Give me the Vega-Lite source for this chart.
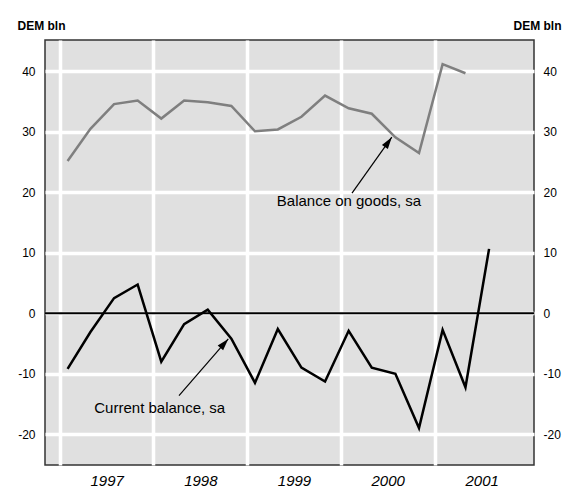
{
  "$schema": "https://vega.github.io/schema/vega-lite/v6.json",
  "width": 489,
  "height": 425,
  "autosize": {"type": "none"},
  "padding": {"left": 45, "top": 40, "right": 31, "bottom": 25},
  "background": "white",
  "config": {
    "view": {"fill": "#e0e0e0", "stroke": "#333333", "strokeWidth": 1.5},
    "font": "Liberation Sans",
    "axis": {"domain": false, "ticks": false, "labelColor": "black", "labelFont": "Liberation Sans", "titleFont": "Liberation Sans", "titleColor": "black"}
  },
  "datasets": {
    "series": [
      {"date": "1997-02-01", "series": "Balance on goods, sa", "value": 25.2},
      {"date": "1997-05-01", "series": "Balance on goods, sa", "value": 30.5},
      {"date": "1997-08-01", "series": "Balance on goods, sa", "value": 34.6},
      {"date": "1997-11-01", "series": "Balance on goods, sa", "value": 35.2},
      {"date": "1998-02-01", "series": "Balance on goods, sa", "value": 32.2},
      {"date": "1998-05-01", "series": "Balance on goods, sa", "value": 35.2},
      {"date": "1998-08-01", "series": "Balance on goods, sa", "value": 34.9},
      {"date": "1998-11-01", "series": "Balance on goods, sa", "value": 34.3},
      {"date": "1999-02-01", "series": "Balance on goods, sa", "value": 30.1},
      {"date": "1999-05-01", "series": "Balance on goods, sa", "value": 30.4},
      {"date": "1999-08-01", "series": "Balance on goods, sa", "value": 32.5},
      {"date": "1999-11-01", "series": "Balance on goods, sa", "value": 36.0},
      {"date": "2000-02-01", "series": "Balance on goods, sa", "value": 33.9},
      {"date": "2000-05-01", "series": "Balance on goods, sa", "value": 33.0},
      {"date": "2000-08-01", "series": "Balance on goods, sa", "value": 29.1},
      {"date": "2000-11-01", "series": "Balance on goods, sa", "value": 26.5},
      {"date": "2001-02-01", "series": "Balance on goods, sa", "value": 41.2},
      {"date": "2001-05-01", "series": "Balance on goods, sa", "value": 39.7},
      {"date": "1997-02-01", "series": "Current balance, sa", "value": -9.2},
      {"date": "1997-05-01", "series": "Current balance, sa", "value": -3.1},
      {"date": "1997-08-01", "series": "Current balance, sa", "value": 2.5},
      {"date": "1997-11-01", "series": "Current balance, sa", "value": 4.75},
      {"date": "1998-02-01", "series": "Current balance, sa", "value": -8.0},
      {"date": "1998-05-01", "series": "Current balance, sa", "value": -1.8},
      {"date": "1998-08-01", "series": "Current balance, sa", "value": 0.6},
      {"date": "1998-11-01", "series": "Current balance, sa", "value": -4.2},
      {"date": "1999-02-01", "series": "Current balance, sa", "value": -11.5},
      {"date": "1999-05-01", "series": "Current balance, sa", "value": -2.6},
      {"date": "1999-08-01", "series": "Current balance, sa", "value": -9.0},
      {"date": "1999-11-01", "series": "Current balance, sa", "value": -11.3},
      {"date": "2000-02-01", "series": "Current balance, sa", "value": -2.9},
      {"date": "2000-05-01", "series": "Current balance, sa", "value": -9.0},
      {"date": "2000-08-01", "series": "Current balance, sa", "value": -10.0},
      {"date": "2000-11-01", "series": "Current balance, sa", "value": -19.0},
      {"date": "2001-02-01", "series": "Current balance, sa", "value": -2.75},
      {"date": "2001-05-01", "series": "Current balance, sa", "value": -12.25},
      {"date": "2001-08-01", "series": "Current balance, sa", "value": 10.65}
    ],
    "notes": [
      {"label": "Balance on goods, sa", "date": "2000-07-18", "value": 29.13, "date2": "2000-02-14", "value2": 19.86, "textDate": "1999-04-27", "textValue": 17.71},
      {"label": "Current balance, sa", "date": "1998-10-20", "value": -4.24, "date2": "1998-04-11", "value2": -13.62, "textDate": "1997-05-16", "textValue": -16.55}
    ]
  },
  "layer": [
    {
      "data": {"name": "series"},
      "mark": {"type": "line", "strokeWidth": 2.5, "interpolate": "linear"},
      "encoding": {
        "x": {
          "field": "date", "type": "temporal",
          "scale": {"domain": [{"year": 1996, "month": 11, "date": 5}, {"year": 2002, "month": 1, "date": 23}]},
          "axis": {
            "title": null,
            "values": [{"year": 1997, "month": 1, "date": 1}, {"year": 1998, "month": 1, "date": 1}, {"year": 1999, "month": 1, "date": 1}, {"year": 2000, "month": 1, "date": 1}, {"year": 2001, "month": 1, "date": 1}],
            "format": "%Y",
            "labelOffset": 47,
            "labelAlign": "center",
            "labelFlush": false,
            "labelOverlap": false,
            "labelBound": false,
            "labelFontStyle": "italic",
            "labelFontSize": 15,
            "labelPadding": 8,
            "grid": true,
            "gridColor": "white",
            "gridWidth": 3.5,
            "gridOpacity": 1
          }
        },
        "y": {
          "field": "value", "type": "quantitative",
          "scale": {"domain": [-25.1, 45.2], "nice": false, "zero": false},
          "axis": {
            "orient": "left",
            "values": [-20, -10, 0, 10, 20, 30, 40],
            "labelExpr": "toString(datum.value)",
            "grid": true,
            "gridColor": "white",
            "gridWidth": 3.5,
            "gridOpacity": 1,
            "labelFontSize": 12,
            "labelPadding": 10,
            "title": "DEM bln",
            "titleAngle": 0,
            "titleAlign": "left",
            "titleBaseline": "alphabetic",
            "titleX": -28,
            "titleY": -11,
            "titleFontSize": 12,
            "titleFontWeight": "bold"
          }
        },
        "color": {
          "field": "series", "type": "nominal",
          "scale": {"domain": ["Balance on goods, sa", "Current balance, sa"], "range": ["#7f7f7f", "#000000"]},
          "legend": null
        }
      }
    },
    {
      "data": {"values": [{"zero": 0}]},
      "mark": {"type": "rule", "color": "black", "strokeWidth": 2},
      "encoding": {"y": {"field": "zero", "type": "quantitative", "axis": null}}
    },
    {
      "data": {"name": "notes"},
      "mark": {"type": "rule", "color": "black", "strokeWidth": 1.2},
      "encoding": {
        "x": {"field": "date2", "type": "temporal"},
        "y": {
          "field": "value2", "type": "quantitative",
          "axis": {
            "orient": "right",
            "values": [-20, -10, 0, 10, 20, 30, 40],
            "labelExpr": "toString(datum.value)",
            "grid": false,
            "labelFontSize": 12,
            "labelPadding": 9,
            "title": "DEM bln",
            "titleAngle": 0,
            "titleAlign": "right",
            "titleBaseline": "alphabetic",
            "titleX": 27,
            "titleY": -11,
            "titleFontSize": 12,
            "titleFontWeight": "bold"
          }
        },
        "x2": {"field": "date"},
        "y2": {"field": "value"}
      }
    },
    {
      "data": {"name": "notes"},
      "transform": [{"filter": "datum.label == 'Balance on goods, sa'"}],
      "mark": {"type": "point", "shape": "M0,0L-0.6,2L0.6,2Z", "filled": true, "size": 144, "color": "black", "opacity": 1, "angle": 35},
      "encoding": {
        "x": {"field": "date", "type": "temporal"},
        "y": {"field": "value", "type": "quantitative", "axis": null}
      }
    },
    {
      "data": {"name": "notes"},
      "transform": [{"filter": "datum.label == 'Current balance, sa'"}],
      "mark": {"type": "point", "shape": "M0,0L-0.6,2L0.6,2Z", "filled": true, "size": 144, "color": "black", "opacity": 1, "angle": 41},
      "encoding": {
        "x": {"field": "date", "type": "temporal"},
        "y": {"field": "value", "type": "quantitative", "axis": null}
      }
    },
    {
      "data": {"name": "notes"},
      "mark": {"type": "text", "align": "left", "baseline": "alphabetic", "fontSize": 15, "font": "Liberation Sans", "color": "black"},
      "encoding": {
        "x": {"field": "textDate", "type": "temporal"},
        "y": {"field": "textValue", "type": "quantitative", "axis": null},
        "text": {"field": "label"}
      }
    }
  ],
  "resolve": {"axis": {"y": "independent"}}
}
